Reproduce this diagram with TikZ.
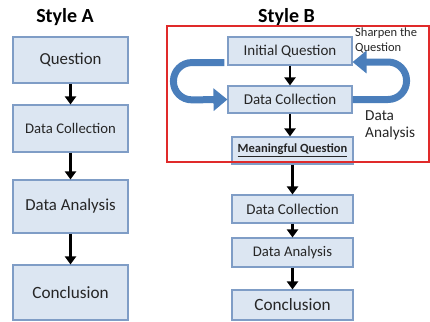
\documentclass[tikz,border=0pt]{standalone}
\usepackage{fontspec}
\setmainfont{Carlito}
\usetikzlibrary{positioning, arrows.meta}
\usepackage{xcolor}
\definecolor{boxfill}{HTML}{DCE6F2}
\definecolor{boxline}{HTML}{7F9DC6}
\definecolor{turnblue}{HTML}{4A7EBB}
\definecolor{framered}{HTML}{E02A2A}
\newcommand{\fsz}[2]{\fontsize{#1}{#2}\selectfont}
\tikzset{
  stepbox/.style={draw=boxline, fill=boxfill, line width=1.1pt, inner sep=0pt, text=black!85},
  down/.style={-{Triangle[width=11pt,length=8pt]}, line width=2.2pt},
  turn/.style={-{Triangle[width=22pt,length=14pt]}, line width=7pt, draw=turnblue, rounded corners=18.5pt}
}
\begin{document}
\begin{tikzpicture}[x=1pt, y=-1pt]
\useasboundingbox (0,0) rectangle (430,321);
% Style A
\node[font=\bfseries\fsz{20}{22}] (titleA) at (65,17) {Style A};
\node[stepbox, minimum width=115pt, minimum height=46pt, font=\fsz{16.8}{18}] (qA) at (70.5,60) {Question};
\node[stepbox, minimum width=115pt, minimum height=47pt, font=\fsz{14.7}{16}] (dcA) at (70.5,128.5) {Data Collection};
\node[stepbox, minimum width=115pt, minimum height=53pt, font=\fsz{16.8}{18}] (daA) at (70.5,206.5) {Data Analysis};
\node[stepbox, minimum width=115pt, minimum height=55pt, font=\fsz{17.2}{18}] (coA) at (70.5,292.5) {Conclusion};
\draw[down] (qA) -- (dcA);
\draw[down] (dcA) -- (daA);
\draw[down] (daA) -- (coA);
% Style B
\node[font=\bfseries\fsz{20}{22}] (titleB) at (286.5,17) {Style B};
\node[stepbox, minimum width=124pt, minimum height=28pt, font=\fsz{15}{16}] (iqB) at (290,51) {Initial Question};
\node[stepbox, minimum width=124pt, minimum height=27pt, font=\fsz{15}{16}] (dcB) at (290,99.5) {Data Collection};
\node[stepbox, minimum width=121pt, minimum height=27pt, font=\bfseries\fsz{12.5}{14}] (mqB) at (292.5,150.5) {\underline{Meaningful Question}};
\node[stepbox, minimum width=121pt, minimum height=28pt, font=\fsz{15}{16}] (dc2B) at (292.5,209) {Data Collection};
\node[stepbox, minimum width=121pt, minimum height=29pt, font=\fsz{14.7}{16}] (da2B) at (292.5,252.5) {Data Analysis};
\node[stepbox, minimum width=121pt, minimum height=30pt, font=\fsz{17.2}{18}] (co2B) at (292.5,305) {Conclusion};
\draw[down] (iqB) -- (dcB);
\draw[down] (dcB.south) -- (dcB.south |- mqB.north);
\draw[down] (mqB) -- (dc2B);
\draw[down] (dc2B) -- (da2B);
\draw[down] (da2B) -- (co2B);
% loops
\draw[turn] ([xshift=-3pt,yshift=3pt]iqB.south west) -- ++(-51,0) -- ++(0,37.5) -- (dcB.west);
\draw[turn] (dcB.east) -- ++(54,0) -- ++(0,-37.5) -- ([yshift=-11pt]iqB.east);
\node[anchor=north west, inner sep=0pt, align=left, text=black!85, font=\fsz{12.5}{15}] (sharpen) at (355,28) {Sharpen the\\Question};
\node[anchor=north west, inner sep=0pt, align=left, text=black!85, font=\fsz{15.3}{17}] (analysis) at (365,110) {Data\\Analysis};
\draw[framered, line width=1.2pt] (167,26) rectangle (429,162);
\end{tikzpicture}
\end{document}
